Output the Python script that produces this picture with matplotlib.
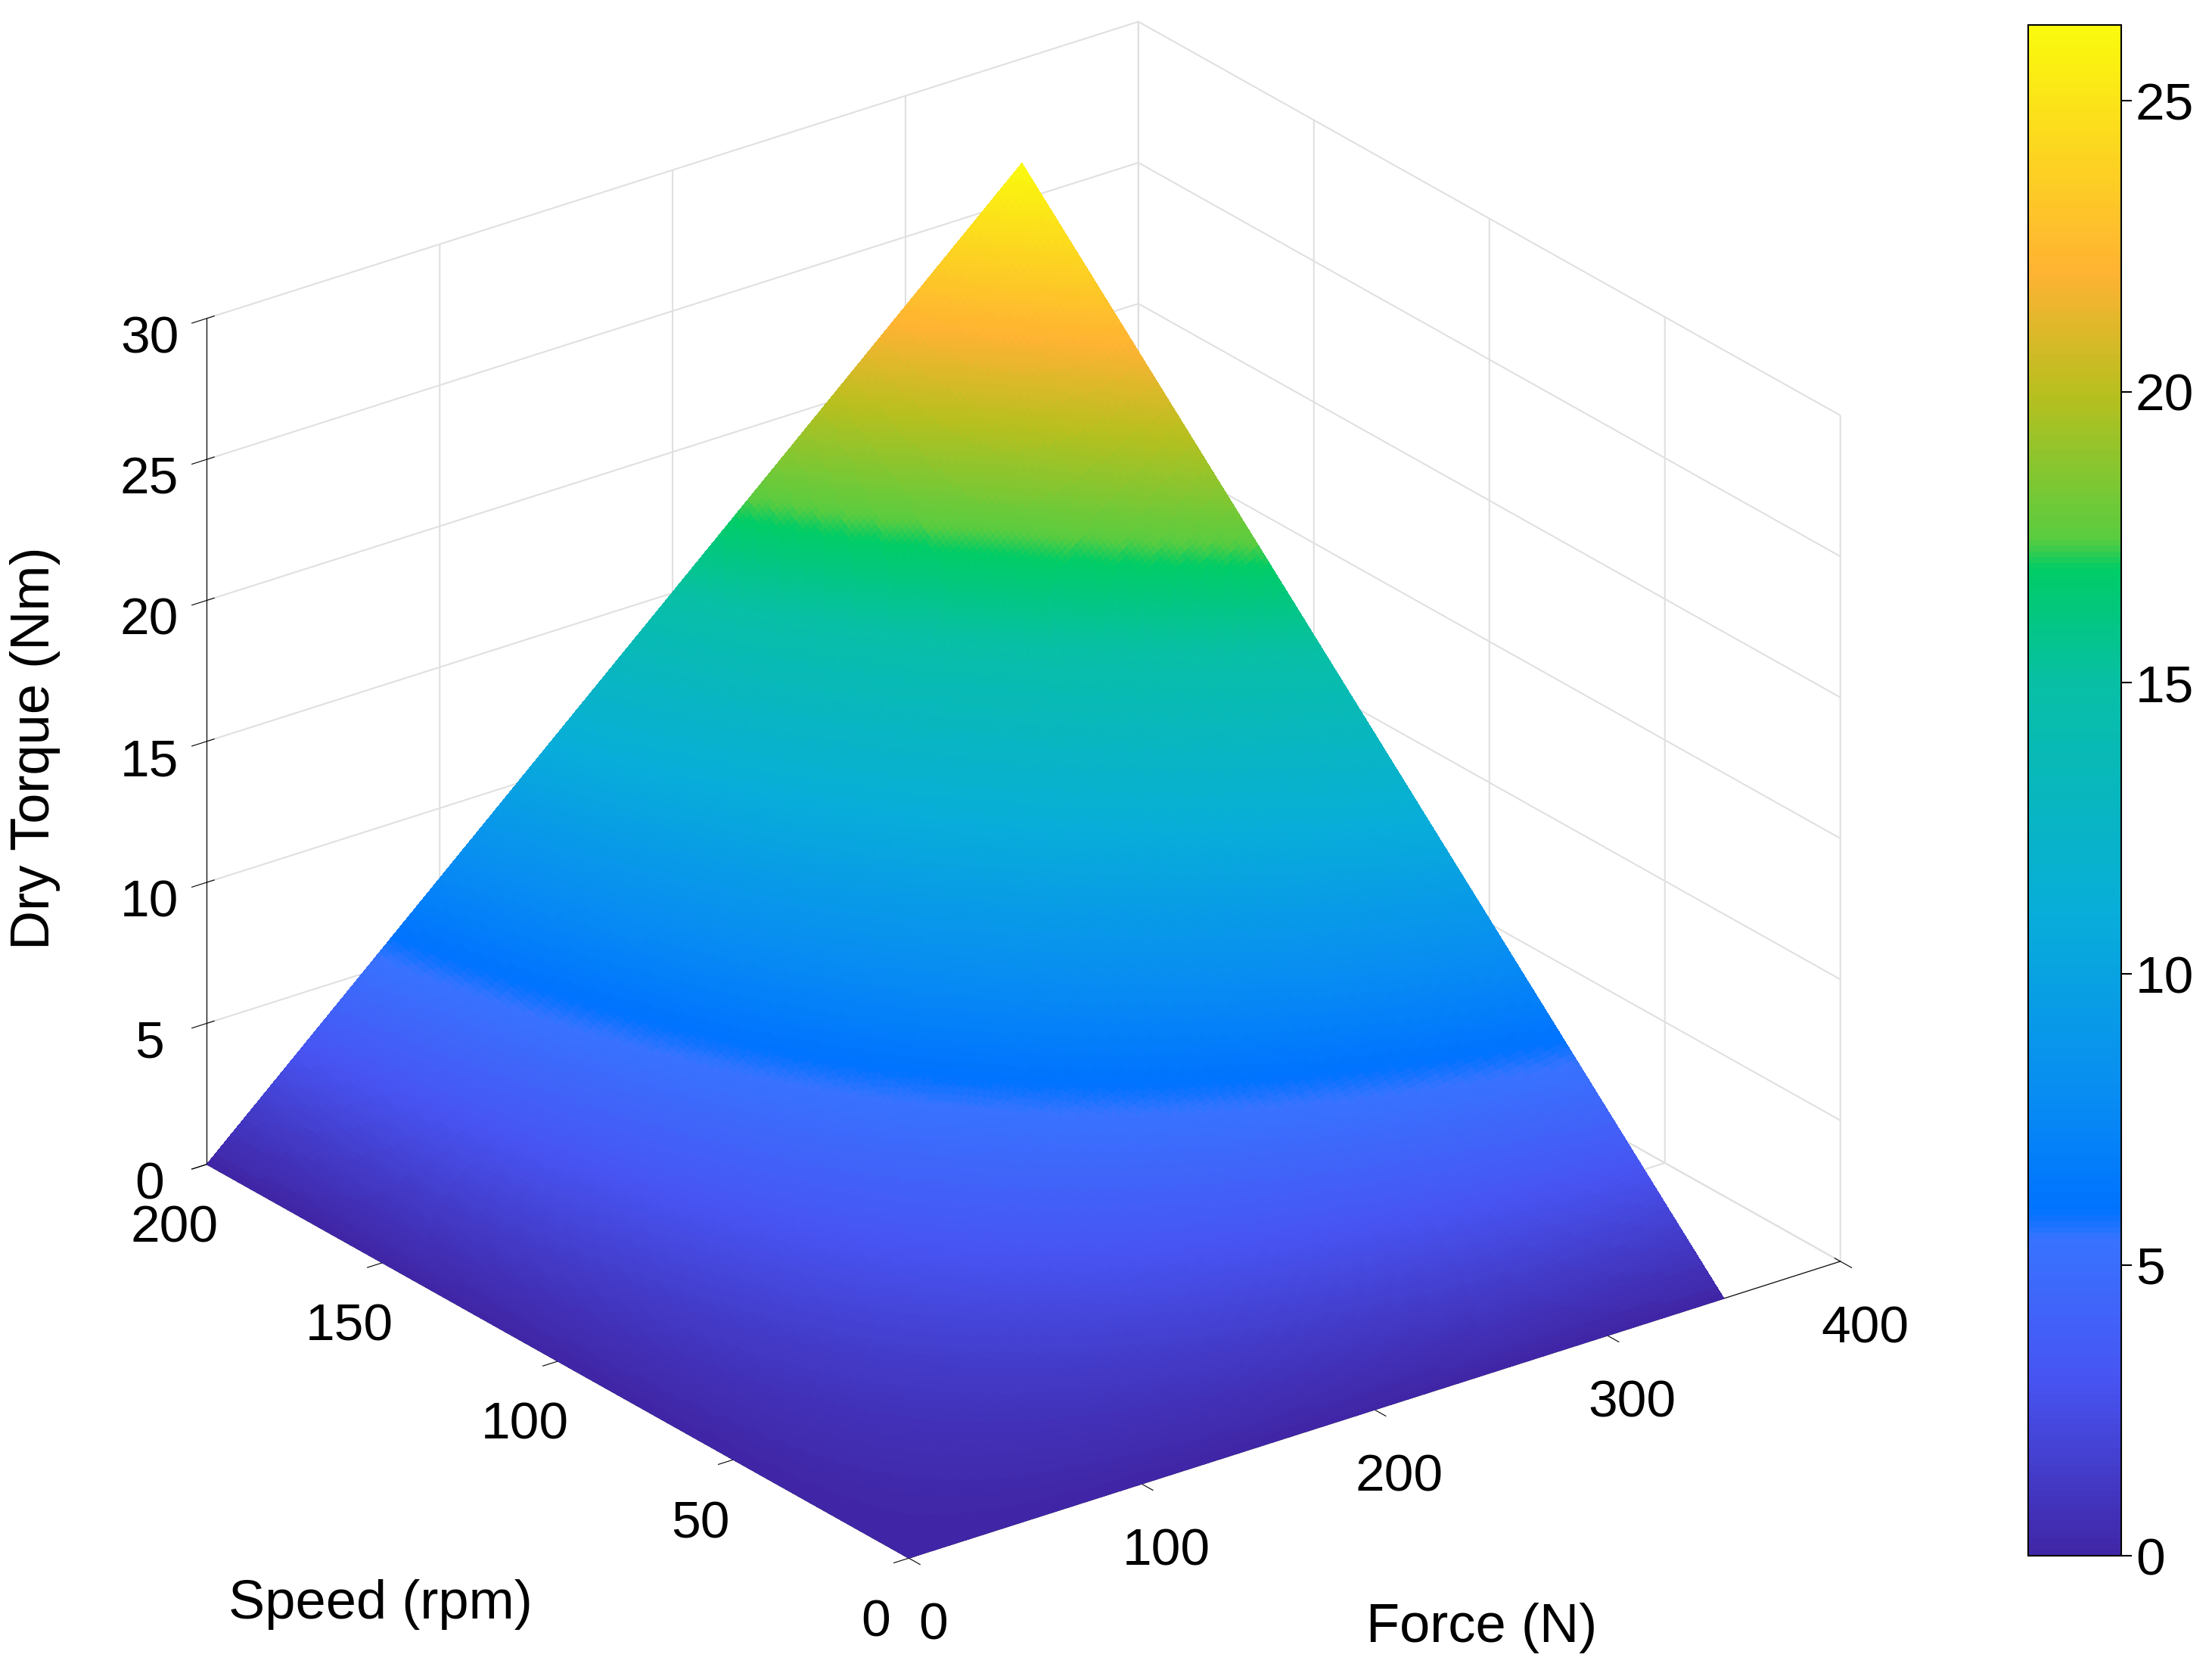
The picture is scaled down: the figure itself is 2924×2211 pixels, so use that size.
import numpy as np
import matplotlib
matplotlib.use("Agg")
import matplotlib.pyplot as plt
from matplotlib.colors import LinearSegmentedColormap

force = np.linspace(0, 350, 200)
speed = np.linspace(0, 200, 200)
torque_max = 26.3
F, S = np.meshgrid(force, speed)
T = torque_max * (F / 350) * (S / 200)

cm_pos = [0.0, 0.114, 0.205, 0.225, 0.30, 0.42, 0.57, 0.645, 0.665, 0.76, 0.84, 1.0]
cm_col = [(0.25,0.15,0.65),(0.28,0.33,0.95),(0.22,0.45,1.0),(0.0,0.45,1.0),
          (0.03,0.55,0.95),(0.03,0.68,0.85),(0.03,0.75,0.65),(0.0,0.8,0.4),
          (0.35,0.8,0.25),(0.72,0.75,0.12),(1.0,0.7,0.2),(0.98,0.98,0.05)]
parula = LinearSegmentedColormap.from_list("parula", list(zip(cm_pos, cm_col)), N=256)

plt.rcParams['font.family'] = ['Arial', 'Liberation Sans', 'DejaVu Sans']
fig = plt.figure(figsize=(29.24, 22.11), dpi=100)
ax = fig.add_axes([0.0015, -0.037, 0.9, 1.1], projection='3d', proj_type='ortho')
surf = ax.plot_surface(F, S, T, cmap=parula, vmin=0, vmax=torque_max,
                       rstride=1, cstride=1, linewidth=0, antialiased=False)
ax.set_xlim(0, 400); ax.set_ylim(0, 200); ax.set_zlim(0, 30)
ax.set_xticks([0, 100, 200, 300, 400])
ax.set_yticks([0, 50, 100, 150, 200])
ax.set_zticks([0, 5, 10, 15, 20, 25, 30])
ax.view_init(elev=25, azim=-127)
ax.set_box_aspect((1, 1, 0.8))
for a in (ax.xaxis, ax.yaxis, ax.zaxis):
    a.set_pane_color((1, 1, 1, 1))
    a._axinfo['grid']['color'] = (0.88, 0.88, 0.88, 1)
    a._axinfo['grid']['linewidth'] = 1.5
ax.tick_params(labelsize=50, pad=24)
fig.text(0.172, 0.041, 'Speed (rpm)', fontsize=52, ha='center', va='center')
fig.text(0.670, 0.027, 'Force (N)', fontsize=52, ha='center', va='center')
fig.text(0.016, 0.553, 'Dry Torque (Nm)', fontsize=52, ha='center', va='center', rotation=90)

cax = fig.add_axes([0.917, 0.07, 0.042, 0.915])
cb = fig.colorbar(surf, cax=cax, ticks=[0, 5, 10, 15, 20, 25])
cb.ax.tick_params(labelsize=50, length=10, width=1.5)
cb.outline.set_linewidth(1.5)
fig.savefig('out.png', dpi=100)
